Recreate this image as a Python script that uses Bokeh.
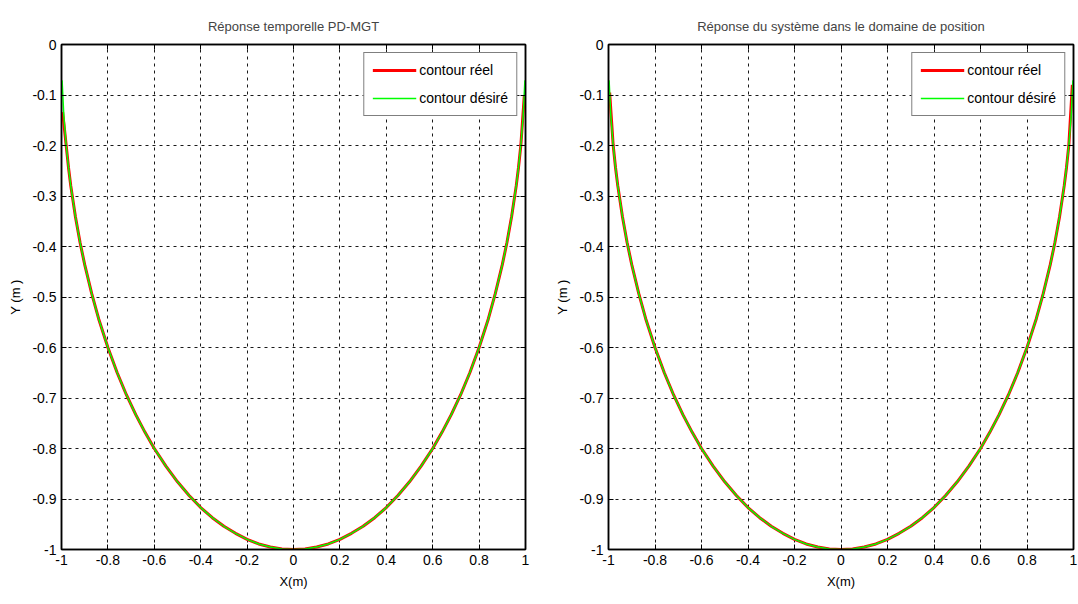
from bokeh.plotting import figure
from bokeh.layouts import row
from bokeh.models import Legend, LegendItem, FixedTicker, Range1d, LinearAxis, CustomLabelingPolicy
from bokeh.embed import file_html
from bokeh.resources import INLINE

# ---- data ----
x_desire = [-0.9975, -0.99, -0.98, -0.97, -0.96, -0.94, -0.92, -0.90, -0.87, -0.84, -0.80,
            -0.76, -0.72, -0.68, -0.64, -0.60, -0.55, -0.50, -0.45, -0.40, -0.35, -0.30,
            -0.25, -0.20, -0.15, -0.10, -0.05, 0.0,
            0.05, 0.10, 0.15, 0.20, 0.25, 0.30, 0.35, 0.40, 0.45, 0.50, 0.55, 0.60,
            0.64, 0.68, 0.72, 0.76, 0.80, 0.84, 0.87, 0.90, 0.92, 0.94, 0.96, 0.97,
            0.98, 0.99, 0.9975]
y_desire = [-0.071, -0.141, -0.199, -0.243, -0.280, -0.341, -0.392, -0.436, -0.493, -0.543, -0.600,
            -0.650, -0.694, -0.733, -0.768, -0.800, -0.835, -0.866, -0.893, -0.917, -0.937, -0.954,
            -0.968, -0.980, -0.989, -0.995, -0.999, -1.000,
            -0.999, -0.995, -0.989, -0.980, -0.968, -0.954, -0.937, -0.917, -0.893, -0.866, -0.835, -0.800,
            -0.768, -0.733, -0.694, -0.650, -0.600, -0.543, -0.493, -0.436, -0.392, -0.341, -0.280, -0.243,
            -0.199, -0.141, -0.071]

x_reel = [-0.995, -0.98, -0.97, -0.96, -0.94, -0.92, -0.90, -0.87, -0.84, -0.80,
          -0.76, -0.72, -0.68, -0.64, -0.60, -0.55, -0.50, -0.45, -0.40, -0.35, -0.30,
          -0.25, -0.20, -0.15, -0.10, -0.05, 0.0,
          0.05, 0.10, 0.15, 0.20, 0.25, 0.30, 0.35, 0.40, 0.45, 0.50, 0.55, 0.60,
          0.64, 0.68, 0.72, 0.76, 0.80, 0.84, 0.87, 0.90, 0.92, 0.94, 0.96, 0.97,
          0.98, 0.995]
y_reel_1 = [-0.134, -0.199, -0.243, -0.280, -0.341, -0.392, -0.436, -0.493, -0.543, -0.600,
            -0.650, -0.694, -0.733, -0.768, -0.800, -0.835, -0.866, -0.893, -0.917, -0.937, -0.954,
            -0.968, -0.980, -0.989, -0.995, -0.999, -1.000,
            -0.999, -0.995, -0.989, -0.980, -0.968, -0.954, -0.937, -0.917, -0.893, -0.866, -0.835, -0.800,
            -0.768, -0.733, -0.694, -0.650, -0.600, -0.543, -0.493, -0.436, -0.392, -0.341, -0.280, -0.243,
            -0.199, -0.100]
y_reel_2 = [-0.095] + y_reel_1[1:-1] + [-0.080]

x_ticks = [-1, -0.8, -0.6, -0.4, -0.2, 0, 0.2, 0.4, 0.6, 0.8, 1]
x_tick_labels = ["-1", "-0.8", "-0.6", "-0.4", "-0.2", "0", "0.2", "0.4", "0.6", "0.8", "1"]
y_ticks = [0, -0.1, -0.2, -0.3, -0.4, -0.5, -0.6, -0.7, -0.8, -0.9, -1]
y_tick_labels = ["0", "-0.1", "-0.2", "-0.3", "-0.4", "-0.5", "-0.6", "-0.7", "-0.8", "-0.9", "-1"]

titles = ["Réponse temporelle PD-MGT", "Réponse du système dans le domaine de position"]
x_label = "X(m)"
y_label = "Y (m )"
legend_labels = ["contour réel", "contour désiré"]

FONT = "'Liberation Sans Narrow', 'Liberation Sans', Arial, sans-serif"


def make_plot(title, y_reel, width, bl, br):
    p = figure(width=width, height=604, output_backend="svg", toolbar_location=None,
               x_range=Range1d(-1, 1), y_range=Range1d(-1, 0),
               min_border_left=bl, min_border_right=br, min_border_top=44, min_border_bottom=55,
               x_axis_label=x_label, y_axis_label=y_label)
    p.title.text = title
    p.title.align = "center"
    p.title.text_font = FONT
    p.title.text_font_size = "13px"
    p.title.text_font_style = "normal"
    p.title.standoff = 14

    p.outline_line_color = "black"
    p.outline_line_width = 1.5
    p.background_fill_color = "white"
    p.border_fill_color = "white"

    for ax, ticks, labels in ((p.xaxis[0], x_ticks, x_tick_labels), (p.yaxis[0], y_ticks, y_tick_labels)):
        ax.ticker = FixedTicker(ticks=ticks)
        ax.major_label_overrides = {t: l for t, l in zip(ticks, labels)}
        ax.major_tick_in = 5
        ax.major_tick_out = 0
        ax.minor_tick_in = 0
        ax.minor_tick_out = 0
        ax.axis_line_color = "black"
        ax.axis_line_width = 1.5
        ax.major_tick_line_color = "black"
        ax.major_label_text_font = FONT
        ax.major_label_text_font_size = "14px"
        ax.major_label_text_color = "black"
        ax.axis_label_text_font = FONT
        ax.axis_label_text_font_size = "13px"
        ax.axis_label_text_font_style = "normal"
        ax.axis_label_text_color = "black"
        ax.major_label_standoff = 5
    p.xaxis[0].axis_label_standoff = 6
    p.yaxis[0].axis_label_standoff = 6

    # mirrored inward ticks on top and right (box style), without labels
    for loc, ticks in (("above", x_ticks), ("right", y_ticks)):
        a = LinearAxis(ticker=FixedTicker(ticks=ticks), major_tick_in=5, major_tick_out=0,
                       minor_tick_in=0, minor_tick_out=0, major_label_text_font_size="1px",
                       major_label_standoff=0, axis_line_color="black", axis_line_width=1.5,
                       major_label_policy=CustomLabelingPolicy(
                           code="for (const i of indices) { if (i < 0) yield i }"))
        p.add_layout(a, loc)

    for g in (p.xgrid[0], p.ygrid[0]):
        g.grid_line_color = "black"
        g.grid_line_dash = "3 4"
        g.grid_line_width = 1
        g.grid_line_alpha = 0.9
    p.xgrid[0].ticker = FixedTicker(ticks=x_ticks)
    p.ygrid[0].ticker = FixedTicker(ticks=y_ticks)

    r1 = p.line(x_reel, y_reel, line_color="#ff0000", line_width=3)
    r2 = p.line(x_desire, y_desire, line_color="#00ff00", line_width=1.5)

    leg = Legend(items=[LegendItem(label=legend_labels[0], renderers=[r1]),
                        LegendItem(label=legend_labels[1], renderers=[r2])],
                 location="top_right")
    leg.border_line_color = "black"
    leg.border_line_width = 1.5
    leg.background_fill_color = "white"
    leg.background_fill_alpha = 1
    leg.label_text_font = FONT
    leg.label_text_font_size = "14px"
    leg.label_text_color = "black"
    leg.glyph_width = 44
    leg.label_standoff = 3
    leg.label_height = 18
    leg.glyph_height = 18
    leg.spacing = 10
    leg.padding = 8
    leg.margin = 8
    p.add_layout(leg)
    return p


p1 = make_plot(titles[0], y_reel_1, 540, 61, 15)
p2 = make_plot(titles[1], y_reel_2, 538, 68, 3)
layout = row(p1, p2)

open("out.html", "w").write(file_html(layout, INLINE))
